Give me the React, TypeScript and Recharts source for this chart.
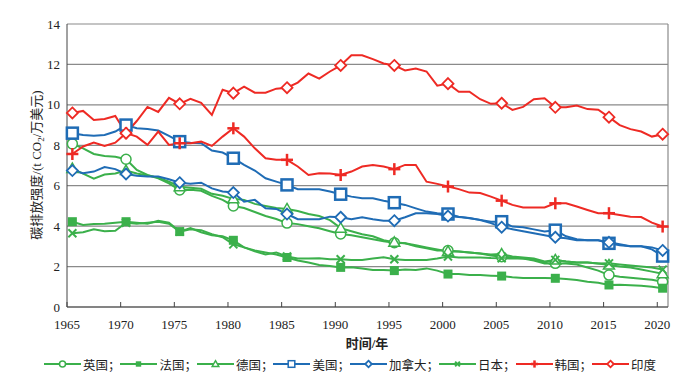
import { LineChart, Line, XAxis, YAxis, CartesianGrid, Legend, ReferenceLine } from 'recharts';

const GREEN = '#3bb04b';
const BLUE = '#1f6cb5';
const RED = '#ee2a24';

const years = Array.from({ length: 56 }, (_, i) => 1965 + i);

const uk = [
  8.07, 7.85, 7.57, 7.47, 7.43, 7.31, 6.78, 6.53, 6.37, 6.12,
  5.79, 5.8, 5.75, 5.5, 5.3, 5.0, 4.9, 4.7, 4.5, 4.35,
  4.15, 4.1, 4.0, 3.9, 3.75, 3.61, 3.55, 3.45, 3.35, 3.25,
  3.18, 3.15, 3.0, 2.9, 2.8, 2.79, 2.75, 2.7, 2.65, 2.55,
  2.49, 2.45, 2.4, 2.3, 2.15, 2.16, 2.15, 2.1, 1.95, 1.8,
  1.58, 1.5, 1.45, 1.4, 1.35, 1.25,
];
const france = [
  4.22, 4.06, 4.1, 4.12, 4.17, 4.22, 4.17, 4.12, 4.27, 4.17,
  3.73, 3.9, 3.7, 3.55, 3.5, 3.3, 2.95, 2.8, 2.7, 2.6,
  2.45, 2.3, 2.2, 2.08, 2.03, 1.96, 1.97, 1.91, 1.83, 1.83,
  1.8, 1.86, 1.83, 1.91, 1.8, 1.63, 1.63, 1.58, 1.58, 1.55,
  1.53, 1.47, 1.44, 1.44, 1.44, 1.42, 1.38, 1.33, 1.25, 1.2,
  1.09, 1.1, 1.08, 1.05, 1.0, 0.93,
];
const germany = [
  6.85, 6.6, 6.35, 6.55, 6.6, 6.75, 6.6, 6.5, 6.4, 6.2,
  5.95, 5.9, 5.85, 5.6, 5.5, 5.35, 5.3, 5.1, 5.0, 4.9,
  4.85, 4.75, 4.6, 4.5, 4.3, 3.9, 3.75, 3.6, 3.5, 3.3,
  3.2, 3.15, 3.05, 2.95, 2.85, 2.75, 2.75, 2.7, 2.65, 2.6,
  2.62, 2.5, 2.45, 2.4, 2.25, 2.33, 2.25, 2.2, 2.2, 2.15,
  2.08, 2.0, 1.95, 1.85, 1.75, 1.65,
];
const usa = [
  8.6, 8.51, 8.47, 8.51, 8.68, 9.0, 8.84, 8.8, 8.73, 8.47,
  8.18, 8.13, 8.1, 7.74, 7.64, 7.36, 7.03, 6.75, 6.37, 6.2,
  6.04, 5.83, 5.83, 5.83, 5.71, 5.58, 5.46, 5.38, 5.38, 5.26,
  5.16, 5.05, 4.88, 4.72, 4.64, 4.6, 4.47, 4.39, 4.31, 4.22,
  4.22, 3.98, 3.95, 3.84, 3.73, 3.8, 3.5, 3.35, 3.3, 3.3,
  3.15, 3.05, 3.0, 3.0, 2.85, 2.52,
];
const canada = [
  6.75, 6.62, 6.7, 6.92, 6.82, 6.58, 6.49, 6.45, 6.45, 6.32,
  6.15, 6.1, 6.15, 5.87, 5.71, 5.66, 5.21, 5.3, 4.88, 4.85,
  4.6, 4.34, 4.34, 4.34, 4.47, 4.44, 4.34, 4.44, 4.34, 4.27,
  4.27, 4.44, 4.64, 4.64, 4.6, 4.5, 4.45, 4.4, 4.3, 4.15,
  3.95, 3.85, 3.75, 3.65, 3.55, 3.45, 3.4, 3.3, 3.3, 3.3,
  3.2, 3.1, 3.0, 3.0, 2.95, 2.8,
];
const japan = [
  3.65, 3.7, 3.85, 3.75, 3.77, 4.17, 4.12, 4.17, 4.22, 4.12,
  3.73, 3.85, 3.8, 3.6, 3.45, 3.1, 2.95, 2.75, 2.6, 2.7,
  2.5, 2.4, 2.4, 2.41, 2.36, 2.36, 2.33, 2.33, 2.4, 2.46,
  2.36, 2.33, 2.33, 2.33, 2.4, 2.5, 2.45, 2.45, 2.45, 2.42,
  2.41, 2.4, 2.4, 2.35, 2.2, 2.33, 2.25, 2.2, 2.2, 2.15,
  2.16, 2.1, 2.05, 2.0, 1.95, 1.85,
];
const korea = [
  7.57, 7.94, 8.13, 7.97, 8.13, 8.6, 8.43, 8.02, 8.68, 8.02,
  8.1, 8.1, 8.18, 7.97, 8.43, 8.84, 8.43, 7.85, 7.36, 7.28,
  7.28, 6.95, 6.53, 6.62, 6.6, 6.53, 6.7, 6.95, 7.03, 6.95,
  6.82, 7.03, 7.03, 6.2, 6.09, 5.96, 5.83, 5.66, 5.64, 5.46,
  5.26, 5.05, 4.92, 4.92, 4.92, 5.13, 5.13, 4.97, 4.8, 4.64,
  4.64, 4.55, 4.47, 4.45, 4.17, 3.98,
];
const india = [
  9.6, 9.7, 9.25, 9.3, 9.45, 8.6, 9.2, 9.9, 9.65, 10.35,
  10.05, 10.3, 10.1, 9.5, 10.75, 10.58, 10.9, 10.6, 10.6, 10.8,
  10.85, 11.1, 11.55, 11.3, 11.65, 11.95, 12.45, 12.45, 12.26, 12.05,
  11.95, 11.7, 11.8, 11.65, 10.95, 11.05, 10.65, 10.65, 10.28, 10.05,
  10.08, 9.75, 9.9, 10.28, 10.33, 9.88, 9.88, 9.97, 9.79, 9.76,
  9.39, 9.0, 8.8, 8.68, 8.43, 8.55,
];

const yTicks = [0, 2, 4, 6, 8, 10, 12, 14];
const xTicks = [1964.5, 1969.5, 1974.5, 1979.5, 1984.5, 1989.5, 1994.5, 1999.5, 2004.5, 2009.5, 2014.5, 2019.5];

const series = [
  { key: 'uk', name: '英国；', color: GREEN, shape: 'circle', values: uk },
  { key: 'france', name: '法国；', color: GREEN, shape: 'fsquare', values: france },
  { key: 'germany', name: '德国；', color: GREEN, shape: 'triangle', values: germany },
  { key: 'usa', name: '美国；', color: BLUE, shape: 'square', values: usa },
  { key: 'canada', name: '加拿大；', color: BLUE, shape: 'diamond', values: canada },
  { key: 'japan', name: '日本；', color: GREEN, shape: 'cross', values: japan },
  { key: 'korea', name: '韩国；', color: RED, shape: 'plus', values: korea },
  { key: 'india', name: '印度', color: RED, shape: 'diamond', values: india },
];

const data = years.map((year, i) => {
  const row: Record<string, number> = { year };
  series.forEach((s) => {
    row[s.key] = s.values[i];
  });
  return row;
});

const serif = "'Liberation Serif', 'Times New Roman', serif";
const cjk = "'Liberation Serif', 'Noto Sans CJK SC', sans-serif";

// k scales the marker (legend icons are smaller than plot markers)
function Marker({ shape, color, cx, cy, k = 1 }: { shape: string; color: string; cx: number; cy: number; k?: number }) {
  const h = 5.5 * k;
  switch (shape) {
    case 'circle':
      return <circle cx={cx} cy={cy} r={5 * k} fill="#fff" stroke={color} strokeWidth={1.5} />;
    case 'fsquare':
      return <rect x={cx - 4.5 * k} y={cy - 4.5 * k} width={9 * k} height={9 * k} fill={color} />;
    case 'triangle':
      return (
        <polygon
          points={`${cx},${cy - h} ${cx + h},${cy + 4 * k} ${cx - h},${cy + 4 * k}`}
          fill="#fff"
          stroke={color}
          strokeWidth={1.5}
        />
      );
    case 'square':
      return <rect x={cx - h} y={cy - h} width={2 * h} height={2 * h} fill="#fff" stroke={color} strokeWidth={2.5 * k} />;
    case 'diamond':
      return (
        <polygon
          points={`${cx},${cy - h} ${cx + h},${cy} ${cx},${cy + h} ${cx - h},${cy}`}
          fill="#fff"
          stroke={color}
          strokeWidth={1.8}
        />
      );
    case 'cross':
      return (
        <g stroke={color} strokeWidth={2}>
          <line x1={cx - 4 * k} y1={cy - 4 * k} x2={cx + 4 * k} y2={cy + 4 * k} />
          <line x1={cx - 4 * k} y1={cy + 4 * k} x2={cx + 4 * k} y2={cy - 4 * k} />
        </g>
      );
    case 'plus':
      return (
        <g stroke={color} strokeWidth={2.5}>
          <line x1={cx - 6 * k} y1={cy} x2={cx + 6 * k} y2={cy} />
          <line x1={cx} y1={cy - 6 * k} x2={cx} y2={cy + 6 * k} />
        </g>
      );
    default:
      return null;
  }
}

function makeDot(shape: string, color: string) {
  return (props: any) => {
    const { cx, cy, payload, index } = props;
    if (payload.year % 5 !== 0) return <g key={`d-${index}`} />;
    return (
      <g key={`d-${index}`}>
        <Marker shape={shape} color={color} cx={cx} cy={cy} />
      </g>
    );
  };
}

function renderLegend() {
  return (
    <div
      style={{
        display: 'flex',
        justifyContent: 'center',
        alignItems: 'center',
        height: 30,
        fontFamily: cjk,
        fontSize: 12.5,
        color: '#222',
      }}
    >
      {series.map((s) => (
        <div key={s.key} style={{ display: 'flex', alignItems: 'center' }}>
          <svg width={37} height={14} style={{ marginRight: 2 }}>
            <line x1={0} y1={7} x2={37} y2={7} stroke={s.color} strokeWidth={2.2} />
            <Marker shape={s.shape} color={s.color} cx={18.5} cy={7} k={0.6} />
          </svg>
          <span>{s.name}</span>
        </div>
      ))}
    </div>
  );
}

export default function App() {
  return (
    <div style={{ position: 'absolute', left: 0, top: 0, background: '#fff' }}>
      <LineChart width={700} height={383} data={data} margin={{ top: 24, right: 32, left: 0, bottom: 0 }}>
        <CartesianGrid vertical={false} stroke="#8a8a8a" strokeWidth={1.2} />
        <XAxis
          dataKey="year"
          type="number"
          domain={[1964.5, 2020.5]}
          ticks={xTicks}
          tickFormatter={(v: number) => String(v + 0.5)}
          height={46}
          stroke="#444"
          tickSize={-5}
          tickMargin={18}
          tick={{ fontFamily: serif, fontSize: 13, fill: '#222' }}
          label={{
            content: () => (
              <text x={367} y={348} textAnchor="middle" fontFamily={cjk} fontSize={13} fontWeight="bold" fill="#222">
                时间/年
              </text>
            ),
          }}
        />
        <YAxis
          domain={[0, 14]}
          ticks={yTicks}
          width={67}
          stroke="#444"
          tickLine={false}
          tickSize={4}
          tickMargin={3}
          tick={{ fontFamily: serif, fontSize: 13, fill: '#222' }}
          label={{
            content: () => (
              <text
                x={0}
                y={0}
                transform="translate(41,165) rotate(-90)"
                textAnchor="middle"
                fontFamily={cjk}
                fontSize={13}
                fill="#222"
              >
                碳排放强度/(t CO<tspan fontSize={9} dy={3}>2</tspan>
                <tspan dy={-3}>/万美元)</tspan>
              </text>
            ),
          }}
        />
        <ReferenceLine x={2020.5} stroke="#8a8a8a" strokeWidth={1.2} />
        <Legend verticalAlign="bottom" content={renderLegend} wrapperStyle={{ left: 0, width: 700, bottom: 4 }} />
        {series.map((s) => (
          <Line
            key={s.key}
            dataKey={s.key}
            name={s.name}
            stroke={s.color}
            strokeWidth={2}
            dot={makeDot(s.shape, s.color)}
            activeDot={false}
            isAnimationActive={false}
          />
        ))}
      </LineChart>
    </div>
  );
}
